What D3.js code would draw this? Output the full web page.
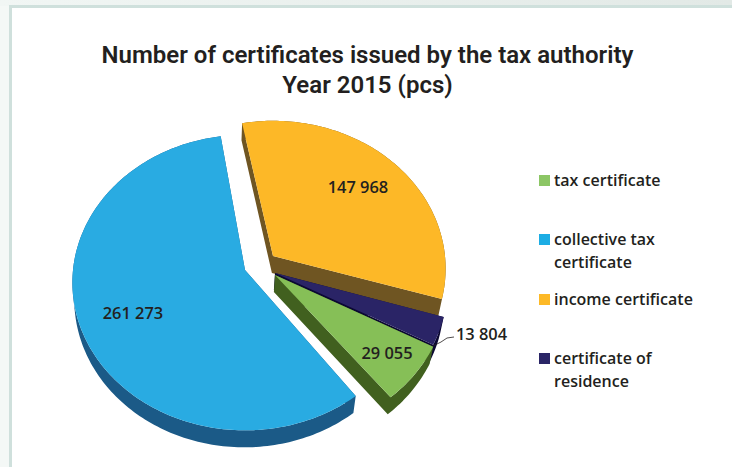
<!DOCTYPE html>
<html><head><meta charset="utf-8">
<script src="https://cdnjs.cloudflare.com/ajax/libs/d3/7.8.5/d3.min.js"></script>
<style>html,body{margin:0;padding:0;background:#fff}svg{display:block}
text{font-family:"Open Sans",sans-serif;fill:#231f20}</style></head>
<body><svg id="c" width="732" height="467"></svg>
<script>
const categories=["tax certificate","collective tax certificate","income certificate","certificate of residence"];
const values=[29055,261273,147968,13804];
const valueLabels=["29 055","261 273","147 968","13 804"];
const legendLines=[["tax certificate"],["collective tax","certificate"],["income certificate"],["certificate of","residence"]];
const titleLines=["Number of certificates issued by the tax authority","Year 2015 (pcs)"];
const topColors=["#86bf57","#29abe2","#fdb827","#2a2466"];
const sideColors=["#41601f","#1b5a87","#6f5522","#0b0833"];
const legendColors=["#8cc665","#1dade4","#fdb927","#2a2566"];

const svg=d3.select("#c");
const defs=svg.append("defs");
const grad=defs.append("linearGradient").attr("id","band");
grad.append("stop").attr("offset","0%").attr("stop-color","#f1f6f4");
grad.append("stop").attr("offset","100%").attr("stop-color","#e2e9e6");
svg.append("rect").attr("width",732).attr("height",467).attr("fill","#f4f8f6");
svg.append("rect").attr("width",732).attr("height",6).attr("fill","url(#band)");
svg.append("rect").attr("x",10.5).attr("y",6.5).attr("width",740).attr("height",480)
  .attr("fill","#fff").attr("stroke","#cfe0dc").attr("stroke-width",3);

const center=[245,270],Rx=172,Ry=146.7,k=0.085,depth=17,vanishX=200,shrink=0.985;
const offsets=[[30,5],[0,0],[28,-14],[30,3]];
const turns=[-2,0,-2.4,-2];
const rad=d=>d*Math.PI/180;
const project=(r,a)=>{const w=1+k*r*Math.cos(a);return [Rx*r*Math.sin(a)/w,-Ry*r*Math.cos(a)/w];};
const pie=d3.pie().sort(null).startAngle(rad(120)).endAngle(rad(480));
const arcs=pie(values);
const line=d3.line().curve(d3.curveLinear);
const outline=(d,i)=>{
  const n=Math.ceil((d.endAngle-d.startAngle)/0.02),t=rad(turns[i]);
  const pts=[project(0,0)];
  d3.range(n+1).forEach(j=>pts.push(project(1,t+d.startAngle+(d.endAngle-d.startAngle)*j/n)));
  return pts;
};
const sidePath=(pts,i)=>{
  const ox=center[0]+offsets[i][0];
  const low=p=>{const gx=p[0]+ox;return [vanishX+(gx-vanishX)*shrink-ox,p[1]+depth];};
  return d3.pairs(pts.concat([pts[0]])).map(([p,q])=>{
    let quad=[p,q,low(q),low(p)];
    if(d3.polygonArea(quad)<0) quad=quad.reverse();
    return line(quad)+"Z";
  }).join("");
};
const order=[1,2,3,0];
const slices=svg.append("g").selectAll("g").data(order).join("g")
  .attr("transform",i=>`translate(${center[0]+offsets[i][0]},${center[1]+offsets[i][1]})`);
slices.append("path").attr("d",i=>sidePath(outline(arcs[i],i),i)).attr("fill",i=>sideColors[i]);
slices.append("path").attr("d",i=>line(outline(arcs[i],i))+"Z").attr("fill",i=>topColors[i]);

svg.append("g").selectAll("text").data(titleLines).join("text")
  .attr("x",367.5).attr("y",(d,i)=>63+i*30).attr("text-anchor","middle")
  .attr("font-size",24).attr("font-weight",600).style("font-family","'Roboto',sans-serif").text(d=>d);

const labelPos=[[387,359],[133,319],[358,193],[456,340]];
svg.append("g").selectAll("text").data(valueLabels).join("text")
  .attr("x",(d,i)=>labelPos[i][0]).attr("y",(d,i)=>labelPos[i][1])
  .attr("text-anchor",(d,i)=>i===3?"start":"middle")
  .attr("font-size",16.4).attr("font-weight",600).text(d=>d);
svg.append("path").attr("d",line([[433,346],[441,342],[447,338],[454,337]])).attr("fill","none").attr("stroke","#231f20").attr("stroke-width",0.8);

const legY=[175,234,294,353];
const leg=svg.append("g").selectAll("g").data(legendLines).join("g");
leg.append("rect").attr("x",539).attr("y",(d,i)=>legY[i]).attr("width",11).attr("height",11).attr("fill",(d,i)=>legendColors[i]);
leg.each(function(lines,i){
  d3.select(this).selectAll("text").data(lines).join("text")
   .attr("x",554).attr("y",(d,j)=>legY[i]+11+j*23)
   .attr("font-size",16).attr("font-weight",600).text(d=>d);
});
</script></body></html>
